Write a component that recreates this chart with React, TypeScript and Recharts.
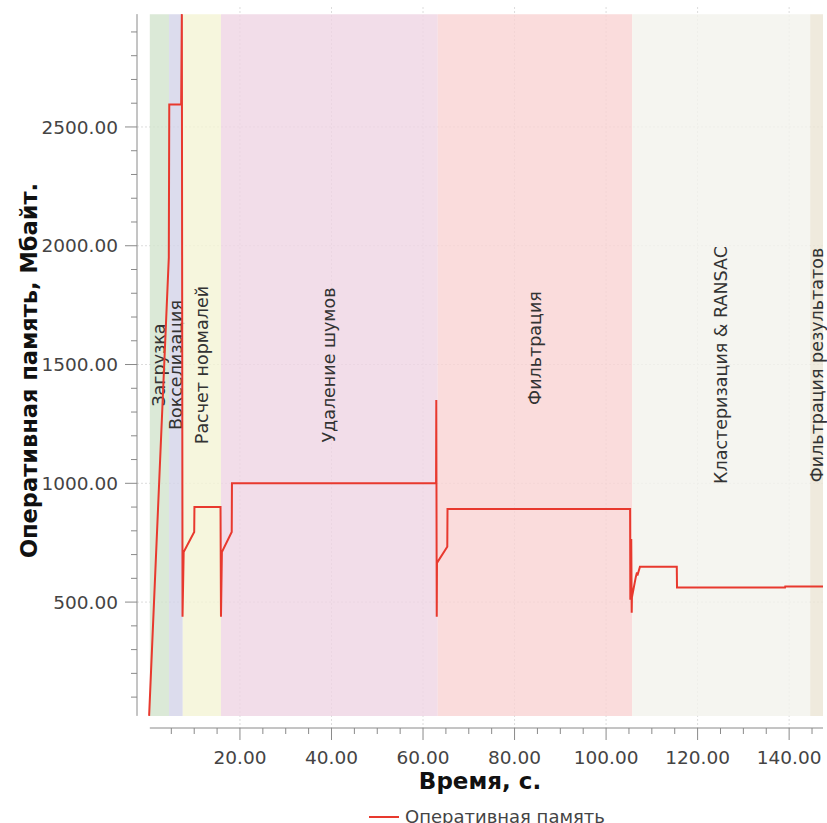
import {
  CartesianGrid,
  ComposedChart,
  Legend,
  Line,
  ReferenceArea,
  ReferenceLine,
  XAxis,
  YAxis,
} from "recharts";

// memory trace, seconds / MB
const timeSec = [
  0.15, 4.45, 4.55, 7.15, 7.3, 7.45, 7.7, 10.0, 10.05, 15.75, 15.85, 16.05,
  18.2, 18.25, 62.85, 62.9, 63.0, 63.05, 65.3, 65.35, 105.25, 105.3, 105.5,
  105.6, 105.65, 106.5, 106.75, 106.85, 107.4, 115.45, 115.5, 139.1, 139.15,
  147.4,
];
const memoryMb = [
  21, 1950, 2595, 2595, 2975, 438, 711, 795, 900, 900, 438, 711, 795, 1000,
  1000, 1351, 438, 665, 733, 892, 892, 510, 766, 455, 520, 606, 625, 612, 649,
  649, 561, 561, 566, 566,
];

const stageNames = [
  "Загрузка",
  "Вокселизация",
  "Расчет нормалей",
  "Удаление шумов",
  "Фильтрация",
  "Кластеризация & RANSAC",
  "Фильтрация результатов",
];
const stageStart = [0.3, 4.5, 7.5, 15.85, 63.2, 105.7, 144.6];
const stageEnd = [4.5, 7.5, 15.85, 63.2, 105.7, 144.6, 147.4];
const stageColors = [
  "#d2e4cd",
  "#d3d3e8",
  "#f4f4d4",
  "#efd5e4",
  "#f9d3d3",
  "#f3f3ec",
  "#ebe5d5",
];
const stageLabelShift = [0, 0, 0, 0, -17, 0, 0];

const xTicks = [
  5, 10, 15, 20, 25, 30, 35, 40, 45, 50, 55, 60, 65, 70, 75, 80, 85, 90, 95,
  100, 105, 110, 115, 120, 125, 130, 135, 140, 145,
];
const xMajor = [20, 40, 60, 80, 100, 120, 140];
const yTicks = [
  100, 200, 300, 400, 500, 600, 700, 800, 900, 1000, 1100, 1200, 1300, 1400,
  1500, 1600, 1700, 1800, 1900, 2000, 2100, 2200, 2300, 2400, 2500, 2600,
  2700, 2800, 2900,
];
const yMajor = [500, 1000, 1500, 2000, 2500];

const xDomain = [-2.5, 147.4];
const yDomain = [-30, 3005];
const bandLow = 21;
const bandHigh = 2975;

const data = timeSec.map((t, i) => ({ t, mem: memoryMb[i] }));

const FONT = "'DejaVu Sans', sans-serif";
const AXIS = "#8a8a8a";

function YTick(props: any) {
  const { x, y, payload } = props;
  const major = yMajor.includes(payload.value);
  return (
    <g>
      <line x1={x - (major ? 12 : 6)} x2={x} y1={y} y2={y} stroke={AXIS} />
      {major && (
        <text
          x={x - 19}
          y={y}
          dy="0.36em"
          textAnchor="end"
          fontFamily={FONT}
          fontSize={18.5}
          fill="#444"
        >
          {payload.value.toFixed(2)}
        </text>
      )}
    </g>
  );
}

function XTick(props: any) {
  const { x, y, payload } = props;
  const major = xMajor.includes(payload.value);
  return (
    <g>
      <line x1={x} x2={x} y1={y} y2={y + (major ? 12 : 6)} stroke={AXIS} />
      {major && (
        <text
          x={x}
          y={y + 36}
          textAnchor="middle"
          fontFamily={FONT}
          fontSize={18.5}
          fill="#444"
        >
          {payload.value.toFixed(2)}
        </text>
      )}
    </g>
  );
}

function bandLabel(name: string, shift: number) {
  return (props: any) => {
    const vb = props.viewBox;
    if (!vb) return null;
    const cx = vb.x + vb.width / 2;
    const cy = vb.y + vb.height / 2 + shift;
    return (
      <text
        x={cx}
        y={cy}
        transform={`rotate(-90 ${cx} ${cy})`}
        textAnchor="middle"
        dominantBaseline="central"
        fontFamily={FONT}
        fontSize={17.5}
        fill="#333"
      >
        {name}
      </text>
    );
  };
}

function YTitle(props: any) {
  const vb = props.viewBox;
  const cx = vb.x + 29;
  const cy = vb.y + vb.height / 2 + 3;
  return (
    <text
      x={cx}
      y={cy}
      transform={`rotate(-90 ${cx} ${cy})`}
      textAnchor="middle"
      dominantBaseline="central"
      fontFamily={FONT}
      fontWeight="bold"
      fontSize={22.5}
      fill="#111"
    >
      Оперативная память, Мбайт.
    </text>
  );
}

function XTitle(props: any) {
  const vb = props.viewBox;
  return (
    <text
      x={vb.x + vb.width / 2}
      y={vb.y + 53}
      textAnchor="middle"
      dominantBaseline="central"
      fontFamily={FONT}
      fontWeight="bold"
      fontSize={23}
      fill="#111"
    >
      Время, с.
    </text>
  );
}

function LegendBox(props: any) {
  const items = props.payload || [];
  return (
    <div style={{ display: "flex", alignItems: "center", fontFamily: FONT, height: 21 }}>
      {items.map((it: any) => (
        <div key={it.value} style={{ display: "flex", alignItems: "center" }}>
          <svg width={30} height={4} style={{ marginRight: 6 }}>
            <line x1={0} x2={30} y1={2} y2={2} stroke={it.color} strokeWidth={2} />
          </svg>
          <span style={{ fontSize: 18, color: "#444", lineHeight: "21px" }}>{it.value}</span>
        </div>
      ))}
    </div>
  );
}

export default function App() {
  return (
    <div style={{ width: 827, height: 823 }}>
      <style>{`body{margin:0}`}</style>
      <ComposedChart
        width={827}
        height={823}
        data={data}
        margin={{ top: 7, right: 4, left: 0, bottom: 0 }}
      >
        <CartesianGrid
          stroke="#dcdcdc"
          strokeDasharray="2 2"
          horizontalValues={yMajor}
          verticalValues={xMajor}
        />
        <XAxis
          type="number"
          dataKey="t"
          domain={xDomain}
          allowDataOverflow
          ticks={xTicks}
          interval={0}
          height={74}
          tickSize={0}
          tickMargin={0}
          axisLine={false}
          tickLine={false}
          tick={<XTick />}
          label={<XTitle />}
        />
        <YAxis
          type="number"
          domain={yDomain}
          allowDataOverflow
          ticks={yTicks}
          interval={0}
          width={137}
          tickSize={0}
          tickMargin={0}
          axisLine={false}
          tickLine={false}
          tick={<YTick />}
          label={<YTitle />}
        />
        {stageNames.map((name, i) => (
          <ReferenceArea
            key={name}
            x1={stageStart[i]}
            x2={stageEnd[i]}
            y1={bandLow}
            y2={bandHigh}
            fill={stageColors[i]}
            fillOpacity={0.8}
            stroke="none"
            label={bandLabel(name, stageLabelShift[i])}
          />
        ))}
        <ReferenceLine
          segment={[
            { x: xDomain[0], y: bandLow },
            { x: xDomain[0], y: bandHigh },
          ]}
          stroke={AXIS}
          ifOverflow="visible"
        />
        <ReferenceLine
          segment={[
            { x: stageStart[0], y: yDomain[0] },
            { x: xDomain[1], y: yDomain[0] },
          ]}
          stroke={AXIS}
          ifOverflow="visible"
        />
        <Line
          type="linear"
          dataKey="mem"
          name="Оперативная память"
          stroke="#e8392e"
          strokeWidth={2}
          dot={false}
          activeDot={false}
          isAnimationActive={false}
        />
        <Legend
          content={<LegendBox />}
          wrapperStyle={{ position: "absolute", left: 369, top: 806, width: 260 }}
        />
      </ComposedChart>
    </div>
  );
}
